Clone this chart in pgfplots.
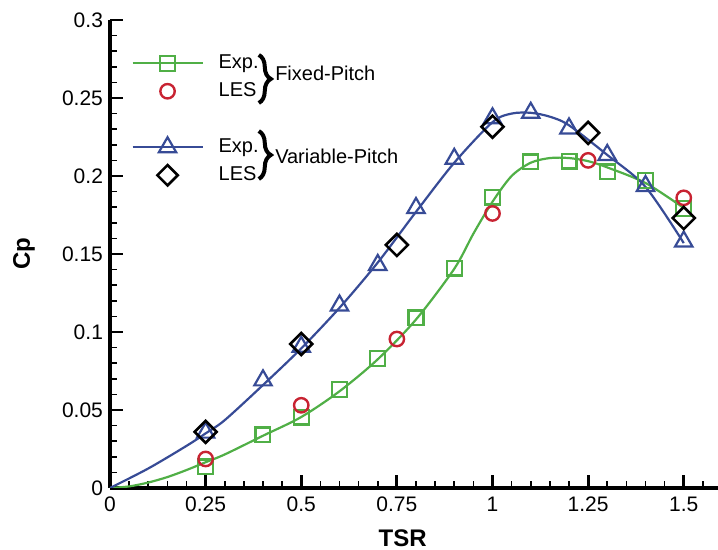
\documentclass[border=0pt]{standalone}
\usepackage{pgfplots}
\pgfplotsset{compat=1.18}
\usetikzlibrary{decorations.pathreplacing}
\usepackage{fontspec}
\setmainfont{Liberation Sans}
\definecolor{cgreen}{RGB}{80,175,70}
\definecolor{cblue}{RGB}{55,75,150}
\definecolor{cred}{RGB}{200,35,50}
\begin{document}
\begin{tikzpicture}
\begin{axis}[
  scale only axis, width=306pt, height=234pt,
  xmin=0, xmax=1.6, ymin=0, ymax=0.3,
  axis x line=bottom, axis y line=left,
  axis line style={-, line width=1.6pt},
  xtick={0,0.25,0.5,0.75,1,1.25,1.5,1.75},
  ytick={0,0.05,0.1,0.15,0.2,0.25,0.3},
  minor x tick num=4, minor y tick num=4,
  tick align=inside,
  major tick length=6.5pt, minor tick length=3.5pt,
  major tick style={line width=1.4pt, black},
  minor tick style={line width=0.8pt, black},
  scaled ticks=false,
  /pgf/number format/assume math mode=true,
  /pgf/number format/fixed, /pgf/number format/precision=2,
  tick label style={font=\fontsize{10.5}{12}\selectfont},
  xticklabel style={yshift=-1pt},
  xlabel={\textbf{TSR}}, ylabel={\textbf{Cp}},
  label style={font=\fontsize{12}{14}\selectfont},
  x label style={at={(axis cs:0.765,0)}, anchor=base, yshift=-29.5pt},
  y label style={at={(rel axis cs:0,0.5)}, anchor=center, yshift=43pt},
  legend style={draw=none, fill=none, at={(axis cs:0.055,0.2815)}, anchor=north west,
    font=\fontsize{10}{12}\selectfont, row sep=0pt, column sep=6.5pt, inner sep=0pt,
    nodes={inner sep=1pt, text height=8.5pt, text depth=3.5pt}},
  legend cell align=left,
  legend image code/.code={\draw[mark repeat=2, mark phase=2, #1] plot coordinates {(0pt,0pt) (17.5pt,0pt) (35pt,0pt)};},
]
% curves
\addplot[cgreen, line width=1.1pt, smooth, forget plot] coordinates {
(0,0) (0.05,0.001) (0.1,0.0035) (0.15,0.007) (0.2,0.0115) (0.25,0.0165) (0.3,0.0215)
(0.4,0.0335) (0.5,0.0455) (0.6,0.062) (0.7,0.0825) (0.8,0.108) (0.9,0.1405) (0.95,0.163)
(1.0,0.1835) (1.05,0.2) (1.1,0.2085) (1.15,0.2115) (1.2,0.2115) (1.25,0.2095) (1.3,0.2055)
(1.4,0.1955) (1.5,0.1795)};
\addplot[cblue, line width=1.1pt, smooth, forget plot] coordinates {
(0,0) (0.1,0.0125) (0.2,0.027) (0.25,0.035) (0.3,0.0435) (0.4,0.066) (0.5,0.0895)
(0.6,0.1155) (0.7,0.1445) (0.8,0.177) (0.9,0.2085) (1.0,0.2345) (1.05,0.24) (1.1,0.2405)
(1.15,0.238) (1.2,0.2325) (1.3,0.2135) (1.4,0.193) (1.5,0.157)};
% markers
\addplot[cgreen, only marks, mark=square, mark size=3.7pt, mark options={line width=1.1pt, fill=cgreen, fill opacity=0.2, draw opacity=1}, forget plot] coordinates {
(0.25,0.0135) (0.4,0.034) (0.5,0.0455) (0.6,0.063) (0.7,0.083) (0.8,0.109) (0.9,0.141)
(1.0,0.1865) (1.1,0.209) (1.2,0.2096) (1.3,0.2026) (1.4,0.197) (1.5,0.179)};
\addplot[cblue, only marks, mark=triangle, mark size=5pt, mark options={line width=1.1pt}, forget plot] coordinates {
(0.25,0.0355) (0.4,0.069) (0.5,0.0905) (0.6,0.117) (0.7,0.143) (0.8,0.1795) (0.9,0.211)
(1.0,0.237) (1.1,0.2405) (1.2,0.2305) (1.3,0.2135) (1.4,0.1936) (1.5,0.158)};
\addplot[cred, only marks, mark=o, mark size=3.6pt, mark options={line width=1.2pt}, forget plot] coordinates {
(0.25,0.0186) (0.5,0.053) (0.75,0.0955) (1.0,0.176) (1.25,0.21) (1.5,0.186)};
\addplot[black, only marks, mark=square, mark size=3.9pt, mark options={rotate=45, line width=1.3pt}, forget plot] coordinates {
(0.25,0.036) (0.5,0.0923) (0.75,0.1558) (1.0,0.2316) (1.25,0.2276) (1.5,0.173)};
% legend
\addlegendimage{cgreen, line width=1.1pt, mark=square, mark size=3.7pt, mark options={line width=1.1pt, fill=cgreen, fill opacity=0.2, draw opacity=1}}
\addlegendentry{Exp.}
\addlegendimage{cred, only marks, mark=o, mark size=3.6pt, mark options={line width=1.2pt}}
\addlegendentry{LES}
\addlegendimage{empty legend}
\addlegendentry{}
\addlegendimage{cblue, line width=1.1pt, mark=triangle, mark size=5pt, mark options={line width=1.1pt}}
\addlegendentry{Exp.}
\addlegendimage{black, only marks, mark=square, mark size=3.6pt, mark options={rotate=45, line width=1.3pt}}
\addlegendentry{LES}
% braces and group labels
\draw[line width=2pt, decorate, decoration={brace, amplitude=6pt}] (axis cs:0.389,0.2776) -- (axis cs:0.389,0.2468);
\draw[line width=2pt, decorate, decoration={brace, amplitude=6pt}] (axis cs:0.389,0.2288) -- (axis cs:0.389,0.1981);
\node[anchor=base west, inner sep=0pt, font=\fontsize{10}{12}\selectfont] at (axis cs:0.431,0.2615) {Fixed-Pitch};
\node[anchor=base west, inner sep=0pt, font=\fontsize{10}{12}\selectfont] at (axis cs:0.431,0.2083) {Variable-Pitch};
\coordinate (O) at (axis cs:0,0);
\end{axis}
\pgfresetboundingbox
\path ([shift={(-55pt,-31pt)}]O) rectangle ([shift={(304pt,244pt)}]O);
\end{tikzpicture}
\end{document}
